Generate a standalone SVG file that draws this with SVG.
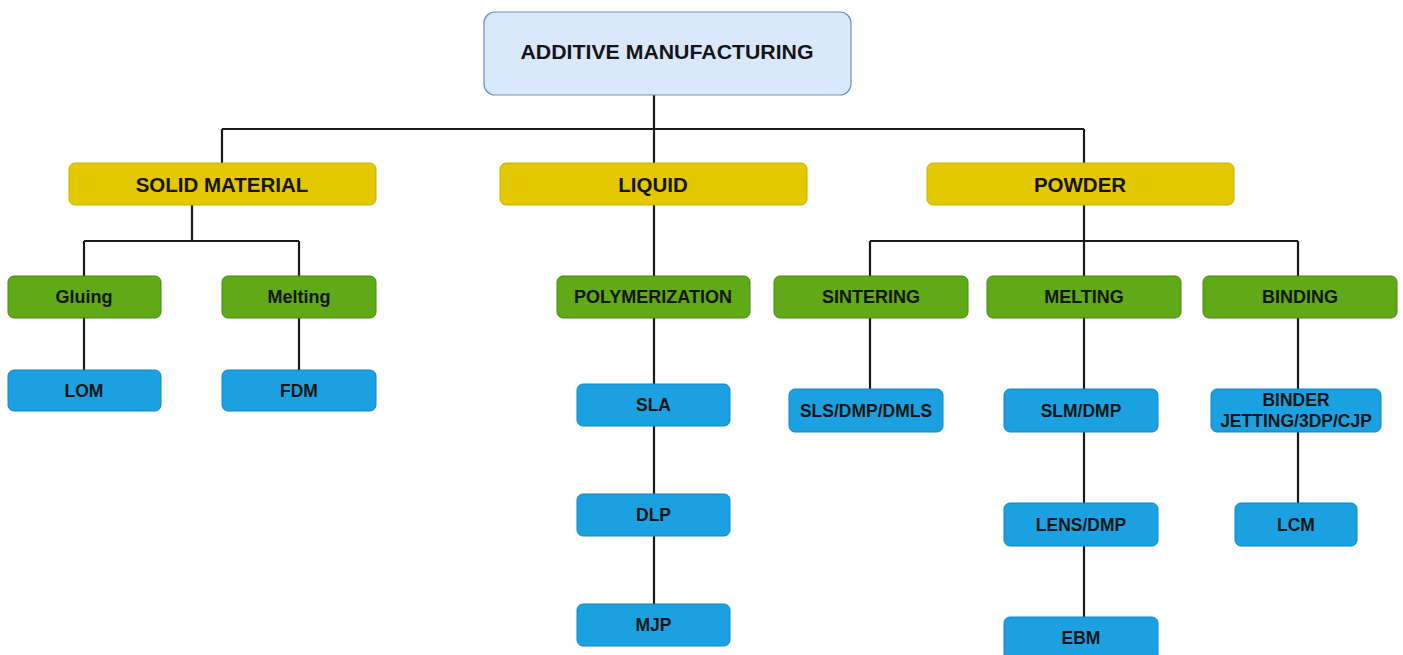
<svg xmlns="http://www.w3.org/2000/svg" width="1403" height="655" viewBox="0 0 1403 655">
<style>
  .t { font-family: "Liberation Sans", Arial, sans-serif; font-weight: bold; fill: #151515; text-anchor: middle; dominant-baseline: central; }
  .root rect { fill: #dae8fc; stroke: #6c8ebf; stroke-width: 1.2; }
  .y rect { fill: #e3c800; stroke: #c8b000; stroke-width: 1; }
  .g rect { fill: #60a917; stroke: #3f8a10; stroke-width: 1; }
  .b rect { fill: #1ba1e2; stroke: #0e86c4; stroke-width: 1; }
  .y text { font-size: 20.5px; }
  .g text { font-size: 18px; }
  .b text { font-size: 17.5px; }
  #connectors path { fill: none; stroke: #1a1a1a; stroke-width: 2.2; }
</style>
<rect width="1403" height="655" fill="#ffffff"/>
<g id="connectors">
  <path d="M654 95 V163"/>
  <path d="M222 129 H1084"/>
  <path d="M222 129 V163"/>
  <path d="M1084 129 V163"/>
  <path d="M192 205 V241"/>
  <path d="M84 241 H299"/>
  <path d="M84 241 V276"/>
  <path d="M299 241 V276"/>
  <path d="M84 318 V370"/>
  <path d="M299 318 V370"/>
  <path d="M654 205 V276"/>
  <path d="M654 318 V384"/>
  <path d="M654 426 V494"/>
  <path d="M654 536 V604"/>
  <path d="M1084 205 V276"/>
  <path d="M870 241 H1298"/>
  <path d="M870 241 V276"/>
  <path d="M1298 241 V276"/>
  <path d="M870 318 V389"/>
  <path d="M1084 318 V389"/>
  <path d="M1298 318 V389"/>
  <path d="M1084 432 V503"/>
  <path d="M1084 546 V617"/>
  <path d="M1298 432 V503"/>
</g>
<g id="additive-manufacturing" class="root">
  <rect x="484" y="12" width="367" height="83" rx="11"/>
  <text class="t" x="667" y="52" font-size="20" textLength="293" lengthAdjust="spacingAndGlyphs">ADDITIVE MANUFACTURING</text>
</g>
<g id="solid-material" class="y">
  <rect x="69" y="163" width="307" height="42" rx="6"/>
  <text class="t" x="222" y="184">SOLID MATERIAL</text>
</g>
<g id="liquid" class="y">
  <rect x="500" y="163" width="307" height="42" rx="6"/>
  <text class="t" x="653" y="184">LIQUID</text>
</g>
<g id="powder" class="y">
  <rect x="927" y="163" width="307" height="42" rx="6"/>
  <text class="t" x="1080" y="184">POWDER</text>
</g>
<g id="gluing" class="g">
  <rect x="8" y="276" width="153" height="42" rx="6"/>
  <text class="t" x="84" y="297">Gluing</text>
</g>
<g id="melting-solid" class="g">
  <rect x="222" y="276" width="154" height="42" rx="6"/>
  <text class="t" x="299" y="297">Melting</text>
</g>
<g id="polymerization" class="g">
  <rect x="557" y="276" width="193" height="42" rx="6"/>
  <text class="t" x="653" y="297">POLYMERIZATION</text>
</g>
<g id="sintering" class="g">
  <rect x="774" y="276" width="194" height="42" rx="6"/>
  <text class="t" x="871" y="297">SINTERING</text>
</g>
<g id="melting-powder" class="g">
  <rect x="987" y="276" width="194" height="42" rx="6"/>
  <text class="t" x="1084" y="297">MELTING</text>
</g>
<g id="binding" class="g">
  <rect x="1203" y="276" width="194" height="42" rx="6"/>
  <text class="t" x="1300" y="297">BINDING</text>
</g>
<g id="lom" class="b">
  <rect x="8" y="370" width="153" height="41" rx="6"/>
  <text class="t" x="84" y="390.5">LOM</text>
</g>
<g id="fdm" class="b">
  <rect x="222" y="370" width="154" height="41" rx="6"/>
  <text class="t" x="299" y="390.5">FDM</text>
</g>
<g id="sla" class="b">
  <rect x="577" y="384" width="153" height="42" rx="6"/>
  <text class="t" x="653.5" y="405">SLA</text>
</g>
<g id="dlp" class="b">
  <rect x="577" y="494" width="153" height="42" rx="6"/>
  <text class="t" x="653.5" y="515">DLP</text>
</g>
<g id="mjp" class="b">
  <rect x="577" y="604" width="153" height="42" rx="6"/>
  <text class="t" x="653.5" y="625">MJP</text>
</g>
<g id="sls" class="b">
  <rect x="789" y="389" width="154" height="43" rx="6"/>
  <text class="t" x="866" y="410.5">SLS/DMP/DMLS</text>
</g>
<g id="slm" class="b">
  <rect x="1004" y="389" width="154" height="43" rx="6"/>
  <text class="t" x="1081" y="410.5">SLM/DMP</text>
</g>
<g id="binder-jetting" class="b">
  <rect x="1211" y="389" width="170" height="43" rx="6"/>
  <text class="t" x="1296" y="400">BINDER</text>
  <text class="t" x="1296" y="421">JETTING/3DP/CJP</text>
</g>
<g id="lens" class="b">
  <rect x="1004" y="503" width="154" height="43" rx="6"/>
  <text class="t" x="1081" y="524.5">LENS/DMP</text>
</g>
<g id="lcm" class="b">
  <rect x="1235" y="503" width="122" height="43" rx="6"/>
  <text class="t" x="1296" y="524.5">LCM</text>
</g>
<g id="ebm" class="b">
  <rect x="1004" y="617" width="154" height="43" rx="6"/>
  <text class="t" x="1081" y="638">EBM</text>
</g>
</svg>
